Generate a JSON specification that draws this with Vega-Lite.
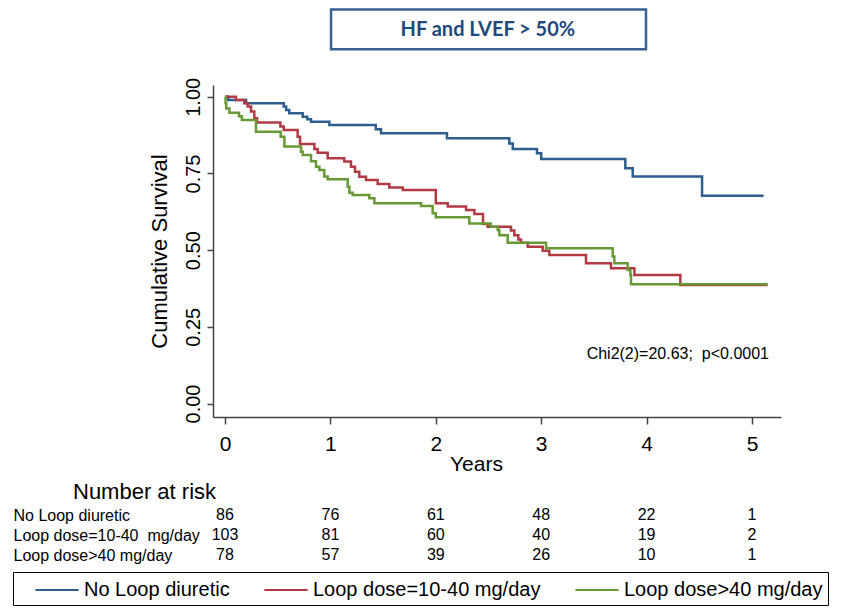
{
  "$schema": "https://vega.github.io/schema/vega-lite/v6.json",
  "background": "white",
  "padding": {"left": 12, "top": 8, "right": 0, "bottom": 0},
  "autosize": {"type": "pad"},
  "bounds": "flush",
  "spacing": 88,
  "resolve": {"scale": {"x": "independent", "y": "independent"}},
  "config": {
    "view": {"stroke": null},
    "font": "Liberation Sans",
    "axis": {"labelFont": "Liberation Sans", "titleFont": "Liberation Sans", "labelColor": "#000", "titleColor": "#000", "titleFontWeight": "normal", "grid": false}
  },
  "datasets": {
    "curves": [
      {"g": "No Loop diuretic", "t": 0, "s": 1},
      {"g": "No Loop diuretic", "t": 0.03, "s": 0.99},
      {"g": "No Loop diuretic", "t": 0.2, "s": 0.979},
      {"g": "No Loop diuretic", "t": 0.557, "s": 0.968},
      {"g": "No Loop diuretic", "t": 0.58, "s": 0.957},
      {"g": "No Loop diuretic", "t": 0.61, "s": 0.946},
      {"g": "No Loop diuretic", "t": 0.737, "s": 0.935},
      {"g": "No Loop diuretic", "t": 0.78, "s": 0.927},
      {"g": "No Loop diuretic", "t": 0.816, "s": 0.919},
      {"g": "No Loop diuretic", "t": 0.99, "s": 0.908},
      {"g": "No Loop diuretic", "t": 1.43, "s": 0.894},
      {"g": "No Loop diuretic", "t": 1.48, "s": 0.881},
      {"g": "No Loop diuretic", "t": 2.106, "s": 0.865},
      {"g": "No Loop diuretic", "t": 2.697, "s": 0.848},
      {"g": "No Loop diuretic", "t": 2.73, "s": 0.83},
      {"g": "No Loop diuretic", "t": 2.96, "s": 0.816},
      {"g": "No Loop diuretic", "t": 3.0, "s": 0.797},
      {"g": "No Loop diuretic", "t": 3.798, "s": 0.767},
      {"g": "No Loop diuretic", "t": 3.868, "s": 0.74},
      {"g": "No Loop diuretic", "t": 4.526, "s": 0.677},
      {"g": "No Loop diuretic", "t": 5.11, "s": 0.677},
      {"g": "Loop dose=10-40 mg/day", "t": 0, "s": 1},
      {"g": "Loop dose=10-40 mg/day", "t": 0.104, "s": 0.99},
      {"g": "Loop dose=10-40 mg/day", "t": 0.183, "s": 0.979},
      {"g": "Loop dose=10-40 mg/day", "t": 0.215, "s": 0.968},
      {"g": "Loop dose=10-40 mg/day", "t": 0.247, "s": 0.952},
      {"g": "Loop dose=10-40 mg/day", "t": 0.278, "s": 0.93},
      {"g": "Loop dose=10-40 mg/day", "t": 0.304, "s": 0.916},
      {"g": "Loop dose=10-40 mg/day", "t": 0.525, "s": 0.903},
      {"g": "Loop dose=10-40 mg/day", "t": 0.557, "s": 0.892},
      {"g": "Loop dose=10-40 mg/day", "t": 0.689, "s": 0.87},
      {"g": "Loop dose=10-40 mg/day", "t": 0.712, "s": 0.846},
      {"g": "Loop dose=10-40 mg/day", "t": 0.848, "s": 0.83},
      {"g": "Loop dose=10-40 mg/day", "t": 0.879, "s": 0.818},
      {"g": "Loop dose=10-40 mg/day", "t": 0.974, "s": 0.8},
      {"g": "Loop dose=10-40 mg/day", "t": 1.132, "s": 0.789},
      {"g": "Loop dose=10-40 mg/day", "t": 1.195, "s": 0.772},
      {"g": "Loop dose=10-40 mg/day", "t": 1.233, "s": 0.756},
      {"g": "Loop dose=10-40 mg/day", "t": 1.274, "s": 0.739},
      {"g": "Loop dose=10-40 mg/day", "t": 1.338, "s": 0.729},
      {"g": "Loop dose=10-40 mg/day", "t": 1.448, "s": 0.716},
      {"g": "Loop dose=10-40 mg/day", "t": 1.559, "s": 0.704},
      {"g": "Loop dose=10-40 mg/day", "t": 1.686, "s": 0.696},
      {"g": "Loop dose=10-40 mg/day", "t": 2.0, "s": 0.653},
      {"g": "Loop dose=10-40 mg/day", "t": 2.113, "s": 0.642},
      {"g": "Loop dose=10-40 mg/day", "t": 2.287, "s": 0.631},
      {"g": "Loop dose=10-40 mg/day", "t": 2.366, "s": 0.618},
      {"g": "Loop dose=10-40 mg/day", "t": 2.448, "s": 0.585},
      {"g": "Loop dose=10-40 mg/day", "t": 2.492, "s": 0.576},
      {"g": "Loop dose=10-40 mg/day", "t": 2.713, "s": 0.564},
      {"g": "Loop dose=10-40 mg/day", "t": 2.745, "s": 0.549},
      {"g": "Loop dose=10-40 mg/day", "t": 2.783, "s": 0.535},
      {"g": "Loop dose=10-40 mg/day", "t": 2.808, "s": 0.524},
      {"g": "Loop dose=10-40 mg/day", "t": 2.872, "s": 0.511},
      {"g": "Loop dose=10-40 mg/day", "t": 3.014, "s": 0.498},
      {"g": "Loop dose=10-40 mg/day", "t": 3.077, "s": 0.484},
      {"g": "Loop dose=10-40 mg/day", "t": 3.425, "s": 0.457},
      {"g": "Loop dose=10-40 mg/day", "t": 3.662, "s": 0.441},
      {"g": "Loop dose=10-40 mg/day", "t": 3.884, "s": 0.419},
      {"g": "Loop dose=10-40 mg/day", "t": 4.32, "s": 0.386},
      {"g": "Loop dose=10-40 mg/day", "t": 5.148, "s": 0.386},
      {"g": "Loop dose>40 mg/day", "t": 0, "s": 1},
      {"g": "Loop dose>40 mg/day", "t": 0.005, "s": 0.979},
      {"g": "Loop dose>40 mg/day", "t": 0.012, "s": 0.962},
      {"g": "Loop dose>40 mg/day", "t": 0.042, "s": 0.948},
      {"g": "Loop dose>40 mg/day", "t": 0.133, "s": 0.937},
      {"g": "Loop dose>40 mg/day", "t": 0.16, "s": 0.924},
      {"g": "Loop dose>40 mg/day", "t": 0.294, "s": 0.886},
      {"g": "Loop dose>40 mg/day", "t": 0.528, "s": 0.87},
      {"g": "Loop dose>40 mg/day", "t": 0.563, "s": 0.838},
      {"g": "Loop dose>40 mg/day", "t": 0.721, "s": 0.821},
      {"g": "Loop dose>40 mg/day", "t": 0.737, "s": 0.81},
      {"g": "Loop dose>40 mg/day", "t": 0.816, "s": 0.79},
      {"g": "Loop dose>40 mg/day", "t": 0.863, "s": 0.772},
      {"g": "Loop dose>40 mg/day", "t": 0.895, "s": 0.761},
      {"g": "Loop dose>40 mg/day", "t": 0.942, "s": 0.74},
      {"g": "Loop dose>40 mg/day", "t": 0.974, "s": 0.731},
      {"g": "Loop dose>40 mg/day", "t": 1.164, "s": 0.707},
      {"g": "Loop dose>40 mg/day", "t": 1.18, "s": 0.687},
      {"g": "Loop dose>40 mg/day", "t": 1.211, "s": 0.68},
      {"g": "Loop dose>40 mg/day", "t": 1.369, "s": 0.669},
      {"g": "Loop dose>40 mg/day", "t": 1.417, "s": 0.653},
      {"g": "Loop dose>40 mg/day", "t": 1.86, "s": 0.644},
      {"g": "Loop dose>40 mg/day", "t": 1.97, "s": 0.62},
      {"g": "Loop dose>40 mg/day", "t": 2.0, "s": 0.607},
      {"g": "Loop dose>40 mg/day", "t": 2.318, "s": 0.587},
      {"g": "Loop dose>40 mg/day", "t": 2.52, "s": 0.576},
      {"g": "Loop dose>40 mg/day", "t": 2.587, "s": 0.566},
      {"g": "Loop dose>40 mg/day", "t": 2.603, "s": 0.549},
      {"g": "Loop dose>40 mg/day", "t": 2.682, "s": 0.524},
      {"g": "Loop dose>40 mg/day", "t": 3.046, "s": 0.506},
      {"g": "Loop dose>40 mg/day", "t": 3.678, "s": 0.479},
      {"g": "Loop dose>40 mg/day", "t": 3.694, "s": 0.457},
      {"g": "Loop dose>40 mg/day", "t": 3.82, "s": 0.435},
      {"g": "Loop dose>40 mg/day", "t": 3.846, "s": 0.419},
      {"g": "Loop dose>40 mg/day", "t": 3.852, "s": 0.389},
      {"g": "Loop dose>40 mg/day", "t": 5.148, "s": 0.389}
    ],
    "risk": [
      {"group": "No Loop diuretic", "t": 0, "n": 86},
      {"group": "No Loop diuretic", "t": 1, "n": 76},
      {"group": "No Loop diuretic", "t": 2, "n": 61},
      {"group": "No Loop diuretic", "t": 3, "n": 48},
      {"group": "No Loop diuretic", "t": 4, "n": 22},
      {"group": "No Loop diuretic", "t": 5, "n": 1},
      {"group": "Loop dose=10-40\u00a0 mg/day", "t": 0, "n": 103},
      {"group": "Loop dose=10-40\u00a0 mg/day", "t": 1, "n": 81},
      {"group": "Loop dose=10-40\u00a0 mg/day", "t": 2, "n": 60},
      {"group": "Loop dose=10-40\u00a0 mg/day", "t": 3, "n": 40},
      {"group": "Loop dose=10-40\u00a0 mg/day", "t": 4, "n": 19},
      {"group": "Loop dose=10-40\u00a0 mg/day", "t": 5, "n": 2},
      {"group": "Loop dose>40 mg/day", "t": 0, "n": 78},
      {"group": "Loop dose>40 mg/day", "t": 1, "n": 57},
      {"group": "Loop dose>40 mg/day", "t": 2, "n": 39},
      {"group": "Loop dose>40 mg/day", "t": 3, "n": 26},
      {"group": "Loop dose>40 mg/day", "t": 4, "n": 10},
      {"group": "Loop dose>40 mg/day", "t": 5, "n": 1}
    ],
    "titlebox": [{"label": "HF and LVEF > 50%"}],
    "note": [{"label": "Chi2(2)=20.63;\u00a0 p<0.0001"}]
  },
  "vconcat": [
    {
      "width": 568,
      "height": 332,
      "layer": [
        {
          "data": {"name": "curves"},
          "mark": {"type": "line", "interpolate": "step-after", "strokeWidth": 2.5},
          "encoding": {
            "x": {"field": "t", "type": "quantitative",
              "scale": {"domain": [-0.114, 5.275], "nice": false, "zero": false},
              "axis": {"title": "Years", "values": [0, 1, 2, 3, 4, 5], "format": "d", "tickSize": 7, "labelPadding": 9, "labelFontSize": 21, "titleFontSize": 21, "titleX": 263, "titleY": 36, "titleBaseline": "top", "domainColor": "#444", "tickColor": "#444", "domainWidth": 1.5, "tickWidth": 1.5}},
            "y": {"field": "s", "type": "quantitative",
              "scale": {"domain": [-0.044, 1.0385], "nice": false, "zero": false},
              "axis": {"title": "Cumulative Survival", "values": [0, 0.25, 0.5, 0.75, 1], "format": ".2f", "labelAngle": -90, "labelAlign": "center", "labelBaseline": "bottom", "tickSize": 6, "labelPadding": 4, "labelFontSize": 20, "titleFontSize": 22, "titlePadding": 12, "domainColor": "#444", "tickColor": "#444", "domainWidth": 1.5, "tickWidth": 1.5}},
            "color": {"field": "g", "type": "nominal",
              "scale": {"domain": ["No Loop diuretic", "Loop dose=10-40 mg/day", "Loop dose>40 mg/day"], "range": ["#2d5e8e", "#b23a45", "#679a36"]},
              "legend": {"orient": "none", "legendX": -200, "legendY": 487, "direction": "horizontal", "title": " ", "titleOrient": "left", "titleFontSize": 1, "titlePadding": 26, "symbolType": "M-1.8,0H1.8", "symbolSize": 576, "symbolStrokeWidth": 2, "labelFontSize": 20, "labelFont": "Liberation Sans", "labelColor": "#000", "labelOffset": 14, "columnPadding": 30, "padding": 5, "strokeColor": "#000", "labelLimit": 0}}
          }
        },
        {
          "data": {"name": "titlebox"},
          "mark": {"type": "rect", "fill": "white", "stroke": "#3a6190", "strokeWidth": 2.5},
          "encoding": {
            "x": {"datum": 1.006, "type": "quantitative"},
            "x2": {"datum": 3.994},
            "y": {"datum": 1.285, "type": "quantitative"},
            "y2": {"datum": 1.155}
          }
        },
        {
          "data": {"name": "titlebox"},
          "mark": {"type": "text", "font": "Lato", "fontWeight": "bold", "fontSize": 20, "color": "#1f497d", "align": "center", "baseline": "middle"},
          "encoding": {
            "x": {"datum": 2.494, "type": "quantitative"},
            "y": {"datum": 1.218, "type": "quantitative"},
            "text": {"field": "label"}
          }
        },
        {
          "data": {"name": "note"},
          "mark": {"type": "text", "font": "Liberation Sans", "fontSize": 16, "color": "#000", "align": "right", "baseline": "middle"},
          "encoding": {
            "x": {"datum": 5.161, "type": "quantitative"},
            "y": {"datum": 0.161, "type": "quantitative"},
            "text": {"field": "label"}
          }
        }
      ]
    },
    {
      "width": 568,
      "height": 60,
      "data": {"name": "risk"},
      "title": {"text": "Number at risk", "anchor": "start", "frame": "group", "dx": -140, "offset": 1, "fontSize": 22, "fontWeight": "normal", "font": "Liberation Sans", "color": "#000"},
      "mark": {"type": "text", "fontSize": 16, "font": "Liberation Sans", "color": "#000", "align": "center", "baseline": "middle"},
      "encoding": {
        "x": {"field": "t", "type": "quantitative", "scale": {"domain": [-0.114, 5.275], "nice": false, "zero": false}, "axis": null},
        "y": {"field": "group", "type": "nominal", "sort": ["No Loop diuretic", "Loop dose=10-40\u00a0 mg/day", "Loop dose>40 mg/day"],
          "scale": {"paddingInner": 0, "paddingOuter": 0},
          "axis": {"title": null, "domain": false, "ticks": false, "tickSize": 0, "labelAlign": "left", "labelPadding": 200, "labelFontSize": 16, "labelLimit": 0}},
        "text": {"field": "n", "type": "quantitative"}
      }
    }
  ]
}
